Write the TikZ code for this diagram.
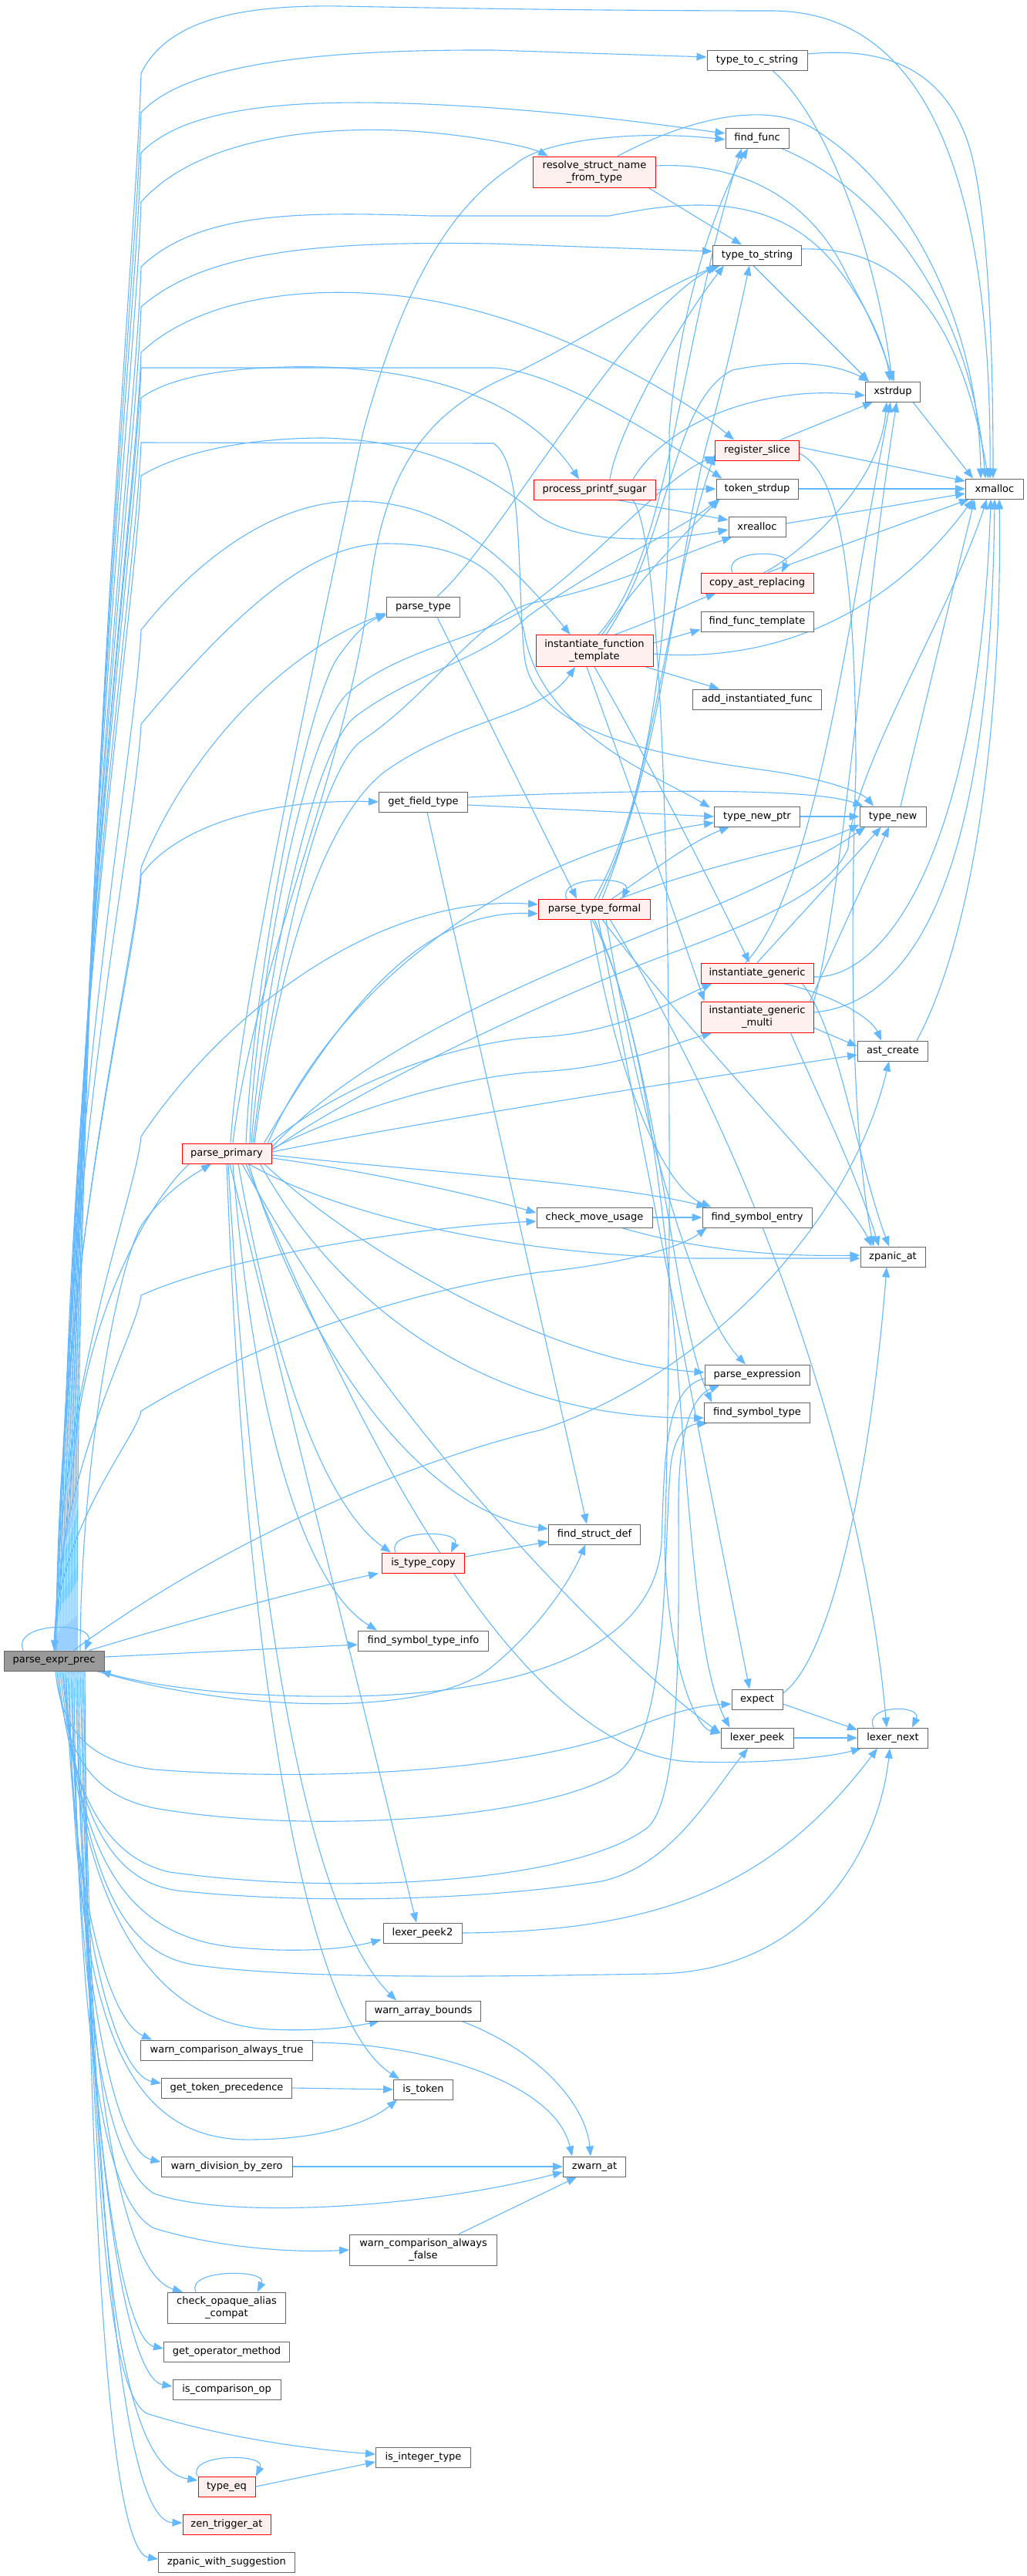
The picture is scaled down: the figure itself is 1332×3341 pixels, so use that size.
\documentclass[tikz,border=0pt]{standalone}
\usepackage{fontspec}
\setmainfont{DejaVu Sans}
\usetikzlibrary{arrows.meta,calc}
\pgfdeclarelayer{back}
\pgfdeclarelayer{bg}
\pgfsetlayers{back,bg,main}
\definecolor{edgec}{HTML}{63B8FF}
\definecolor{nodeb}{HTML}{666666}
\definecolor{rootf}{HTML}{999999}
\definecolor{hlf}{HTML}{FFF0F0}
\newcommand\PU[3]{\draw[e] ($(P.north)+(#1,0)$) .. controls ({70+#1},{(2141+#2)/2}) and (176,{#2+0.12*(2141-#2)}) .. (183,#2) #3;}
\newcommand\SL[2]{\draw[e] ($(#1.north)+(-#2,0)$) .. controls ($(#1.north)+(-#2-14,-30)$) and ($(#1.north)+(#2+14,-30)$) .. ($(#1.north)+(#2,0)$);}
\begin{document}
\begin{tikzpicture}[x=1pt,y=-1pt,
 fn/.style={draw=nodeb, fill=white, line width=1pt, minimum height=26pt, inner sep=0pt, font=\fontsize{13}{15.5}\selectfont, align=center},
 hl/.style={fn, draw=red, fill=hlf},
 rt/.style={fn, fill=rootf},
 e/.style={draw=edgec, line width=1.1pt, -{Triangle[length=13pt,width=10pt]}}]
\begin{pgfonlayer}{back}
\fill[white] (0,0) rectangle (1332,3341);
\end{pgfonlayer}
\useasboundingbox (0,0) rectangle (1332,3341);
% ---------------- nodes
\node[rt, minimum width=130] (P) at (70,2154) {parse\_expr\_prec};
\node[hl, minimum width=116] (PP) at (294,1496) {parse\_primary};
\node[fn, minimum width=223] (wcat) at (294,2659) {warn\_comparison\_always\_true};
\node[fn, minimum width=169] (gtp) at (294,2708) {get\_token\_precedence};
\node[fn, minimum width=170] (wdz) at (294,2810) {warn\_division\_by\_zero};
\node[fn, minimum width=153, minimum height=40] (coac) at (294,2993) {check\_opaque\_alias\\\_compat};
\node[fn, minimum width=163] (gom) at (294,3050) {get\_operator\_method};
\node[fn, minimum width=140] (ico) at (294,3099) {is\_comparison\_op};
\node[hl, minimum width=74] (teq) at (294,3225) {type\_eq};
\node[hl, minimum width=114] (zta) at (294,3274) {zen\_trigger\_at};
\node[fn, minimum width=177] (zws) at (294,3323) {zpanic\_with\_suggestion};
\node[fn, minimum width=95] (pt) at (549,787) {parse\_type};
\node[fn, minimum width=115] (gft) at (549,1040) {get\_field\_type};
\node[hl, minimum width=107] (itc) at (549,2027) {is\_type\_copy};
\node[fn, minimum width=169] (fsti) at (549,2128) {find\_symbol\_type\_info};
\node[fn, minimum width=102] (lp2) at (548,2507) {lexer\_peek2};
\node[fn, minimum width=149] (wab) at (549,2608) {warn\_array\_bounds};
\node[fn, minimum width=77] (ist) at (549,2710) {is\_token};
\node[fn, minimum width=191, minimum height=40] (wcaf) at (549,2918) {warn\_comparison\_always\\\_false};
\node[fn, minimum width=123] (iit) at (549,3187) {is\_integer\_type};
\node[hl, minimum width=159, minimum height=40] (rsn) at (771,223) {resolve\_struct\_name\\\_from\_type};
\node[hl, minimum width=158] (pps) at (771,635) {process\_printf\_sugar};
\node[hl, minimum width=152, minimum height=41] (ift) at (771,844) {instantiate\_function\\\_template};
\node[hl, minimum width=145] (ptf) at (771,1179) {parse\_type\_formal};
\node[fn, minimum width=150] (cmu) at (771,1579) {check\_move\_usage};
\node[fn, minimum width=119] (fsd) at (771,1990) {find\_struct\_def};
\node[fn, minimum width=81] (zw) at (771,2810) {zwarn\_at};
\node[fn, minimum width=130] (ttcs) at (982,78) {type\_to\_c\_string};
\node[fn, minimum width=82] (ff) at (982,179) {find\_func};
\node[fn, minimum width=115] (tts) at (982,331) {type\_to\_string};
\node[hl, minimum width=109] (rs) at (982,584) {register\_slice};
\node[fn, minimum width=106] (tsd) at (982,634) {token\_strdup};
\node[fn, minimum width=74] (xr) at (982,683) {xrealloc};
\node[hl, minimum width=146] (car) at (982,756) {copy\_ast\_replacing};
\node[fn, minimum width=146] (fft) at (982,806) {find\_func\_template};
\node[fn, minimum width=167] (aif) at (982,907) {add\_instantiated\_func};
\node[fn, minimum width=111] (tnp) at (982,1059) {type\_new\_ptr};
\node[hl, minimum width=146] (ig) at (982,1262) {instantiate\_generic};
\node[hl, minimum width=146, minimum height=40] (igm) at (982,1319) {instantiate\_generic\\\_multi};
\node[fn, minimum width=142] (fse) at (982,1579) {find\_symbol\_entry};
\node[fn, minimum width=136] (pe) at (982,1783) {parse\_expression};
\node[fn, minimum width=137] (fst) at (982,1832) {find\_symbol\_type};
\node[fn, minimum width=66] (ex) at (982,2204) {expect};
\node[fn, minimum width=94] (lp) at (982,2254) {lexer\_peek};
\node[fn, minimum width=71] (xs) at (1158,508) {xstrdup};
\node[fn, minimum width=86] (tn) at (1158,1059) {type\_new};
\node[fn, minimum width=91] (ac) at (1158,1363) {ast\_create};
\node[fn, minimum width=84] (zp) at (1158,1630) {zpanic\_at};
\node[fn, minimum width=91] (ln) at (1158,2254) {lexer\_next};
\node[fn, minimum width=75] (xm) at (1290,634) {xmalloc};
% ---------------- edges
\begin{pgfonlayer}{bg}
% parse_expr_prec upward bundle
\PU{30}{95}{.. controls (215,30) and (300,6) .. (440,8) .. controls (600,11) and (800,14) .. (1000,14) .. controls (1210,14) and (1286,250) .. ($(xm.north)+(-6,0)$)}
\PU{28}{146}{.. controls (240,85) and (400,64) .. (640,65) -- ($(ttcs.west)+(0,-4)$)}
\PU{26}{198}{.. controls (250,130) and (420,125) .. (640,140) .. controls (780,150) and (880,165) .. ($(ff.west)+(0,-6)$)}
\PU{24}{262}{.. controls (260,175) and (430,160) .. (560,172) .. controls (640,180) and (690,192) .. ($(rsn.north west)+(20,0)$)}
\PU{22}{346}{.. controls (260,272) and (400,275) .. (560,280) -- (790,280) .. controls (880,262) and (1000,245) .. (1080,340) .. controls (1130,400) and (1150,460) .. ($(xs.north)+(-4,0)$)}
\PU{20}{398}{.. controls (270,322) and (430,313) .. (640,316) -- ($(tts.west)+(0,-5)$)}
\PU{18}{457}{.. controls (260,385) and (400,370) .. (520,384) .. controls (700,405) and (880,510) .. ($(rs.north west)+(25,0)$)}
\PU{16}{477}{-- (640,477) .. controls (720,480) and (860,570) .. ($(tsd.north west)+(8,0)$)}
\PU{14}{516}{.. controls (230,482) and (330,474) .. (420,476) .. controls (580,482) and (690,530) .. ($(pps.north)+(-20,0)$)}
\PU{12}{574}{-- (640,575) .. controls (680,600) and (670,750) .. (680,850) .. controls (690,950) and (850,980) .. (1000,1000) .. controls (1080,1012) and (1120,1030) .. ($(tn.north)+(-25,0)$)}
\PU{10}{617}{.. controls (240,583) and (330,568) .. (420,568) .. controls (560,572) and (640,620) .. (700,670) .. controls (760,710) and (870,700) .. ($(xr.west)+(0,4)$)}
\PU{8}{817}{.. controls (260,720) and (360,650) .. (460,650) .. controls (560,650) and (640,700) .. ($(ift.north west)+(45,0)$)}
\PU{6}{939}{.. controls (300,800) and (400,705) .. (500,705) .. controls (600,705) and (660,740) .. (680,820) .. controls (700,950) and (860,1010) .. ($(tnp.north west)+(-5,2)$)}
\PU{4}{1125}{.. controls (250,960) and (380,840) .. ($(pt.south west)+(0,-5)$)}
\PU{3}{1135}{.. controls (230,1070) and (350,1036) .. (gft.west)}
\PU{2}{1474}{.. controls (300,1300) and (500,1160) .. ($(ptf.west)+(0,-6)$)}
\PU{1}{1680}{.. controls (300,1627) and (550,1591) .. ($(cmu.west)+(0,5)$)}
\PU{0}{1830}{.. controls (340,1734) and (550,1670) .. (700,1650) .. controls (800,1640) and (880,1620) .. ($(fse.south west)+(6,0)$)}
\draw[e] ($(P.north east)+(-40,0)$) .. controls (300,1990) and (550,1890) .. (700,1855) .. controls (900,1790) and (1100,1600) .. ($(ac.south)+(-5,0)$);
\draw[e] ($(P.north east)+(-20,0)$) .. controls (250,2100) and (400,2060) .. ($(itc.south west)+(-4,0)$);
\draw[e] ($(P.east)+(0,-5)$) -- ($(fsti.west)+(0,5)$);
\draw[e] ($(P.north)+(34,0)$) .. controls (105,1900) and (150,1650) .. (183,1590) .. controls (210,1550) and (240,1530) .. ($(PP.south)+(-20,0)$);
\draw[e] ($(PP.south west)+(10,0)$) .. controls (190,1560) and (120,1700) .. (100,1850) .. controls (85,1980) and (75,2080) .. (P.north);
\draw[e] ($(P.north)+(-40,0)$) .. controls ($(P.north)+(-55,-38)$) and ($(P.north)+(55,-38)$) .. ($(P.north)+(40,0)$);
% parse_expr_prec to the right / downward
\draw[e] ($(P.south east)+(-10,0)$) .. controls (300,2220) and (560,2230) .. (640,2160) .. controls (700,2110) and (740,2050) .. ($(fsd.south)+(-12,0)$);
\draw[e] ($(pe.west)+(0,5)$) .. controls (860,1800) and (862,1900) .. (858,2000) .. controls (850,2150) and (650,2198) .. (450,2200) .. controls (300,2202) and (190,2185) .. ($(P.south east)+(-5,0)$);
\draw[e] ($(P.south)+(2,0)$) .. controls (80,2250) and (120,2285) .. (200,2295) .. controls (400,2310) and (650,2300) .. (800,2250) .. controls (860,2225) and (900,2212) .. ($(ex.west)+(0,6)$);
\draw[e] ($(P.south)+(4,0)$) .. controls (85,2290) and (130,2330) .. (200,2345) .. controls (400,2380) and (700,2360) .. (800,2300) .. controls (870,2250) and (860,2000) .. (870,1900) .. controls (875,1860) and (890,1848) .. ($(fst.south west)+(5,0)$);
\draw[e] ($(P.south)+(6,0)$) .. controls (90,2330) and (140,2410) .. (220,2428) .. controls (450,2460) and (750,2440) .. (840,2370) .. controls (885,2330) and (880,2100) .. (880,1950) .. controls (880,1850) and (900,1810) .. ($(pe.south west)+(20,0)$);
\draw[e] ($(P.south)+(8,0)$) .. controls (100,2370) and (150,2440) .. (230,2452) .. controls (400,2470) and (620,2465) .. (780,2440) .. controls (870,2420) and (920,2330) .. ($(lp.south)+(-12,0)$);
\draw[e] ($(P.south)+(10,0)$) .. controls (110,2420) and (150,2530) .. (250,2548) .. controls (400,2570) and (700,2562) .. (850,2560) .. controls (1050,2558) and (1140,2400) .. ($(ln.south)+(-4,0)$);
\draw[e] ($(P.south)+(12,0)$) .. controls (100,2420) and (170,2510) .. (300,2525) .. controls (400,2535) and (460,2525) .. ($(lp2.south west)+(-2,-5)$);
\draw[e] ($(P.south)+(14,0)$) .. controls (100,2480) and (200,2625) .. (350,2632) .. controls (420,2635) and (460,2628) .. ($(wab.south west)+(18,0)$);
\draw[e] ($(P.south)+(16,0)$) .. controls (92,2450) and (140,2620) .. ($(wcat.north west)+(15,0)$);
\draw[e] ($(P.south)+(18,0)$) .. controls (95,2500) and (150,2690) .. ($(gtp.west)+(0,-6)$);
\draw[e] ($(P.south)+(20,0)$) .. controls (95,2600) and (150,2780) .. (330,2775) .. controls (420,2774) and (480,2752) .. ($(ist.south west)+(5,0)$);
\draw[e] ($(P.south)+(22,0)$) .. controls (100,2580) and (150,2790) .. ($(wdz.west)+(0,-6)$);
\draw[e] ($(P.south)+(24,0)$) .. controls (100,2620) and (140,2810) .. (200,2845) .. controls (300,2880) and (560,2862) .. ($(zw.west)+(0,7)$);
\draw[e] ($(P.south)+(26,0)$) .. controls (100,2680) and (140,2860) .. (200,2890) .. controls (300,2920) and (400,2921) .. (wcaf.west);
\draw[e] ($(P.south)+(28,0)$) .. controls (110,2720) and (160,2950) .. ($(coac.north west)+(20,0)$);
\draw[e] ($(P.south)+(30,0)$) .. controls (110,2780) and (160,3035) .. ($(gom.west)+(0,-4)$);
\draw[e] ($(P.south)+(32,0)$) .. controls (112,2820) and (165,3085) .. ($(ico.west)+(0,-4)$);
\draw[e] ($(P.south)+(34,0)$) .. controls (120,2850) and (140,3100) .. (190,3130) .. controls (300,3165) and (420,3178) .. ($(iit.west)+(0,-4)$);
\draw[e] ($(P.south)+(36,0)$) .. controls (120,2900) and (150,3200) .. ($(teq.west)+(0,-8)$);
\draw[e] ($(P.south)+(38,0)$) .. controls (122,2950) and (165,3270) .. ($(zta.west)+(0,-2)$);
\draw[e] ($(P.south)+(40,0)$) .. controls (115,3000) and (150,3310) .. ($(zws.west)+(0,-4)$);
% parse_primary
\draw[e] ($(PP.north)+(5,0)$) .. controls (310,1300) and (420,800) .. (471,560) .. controls (520,380) and (580,270) .. (666,215) .. controls (700,182) and (820,168) .. ($(ff.west)+(0,2)$);
\draw[e] ($(PP.north)+(8,0)$) .. controls (330,1250) and (450,1000) .. (480,760) .. controls (500,600) and (560,530) .. (666,485) .. controls (760,440) and (860,370) .. ($(tts.south west)+(10,0)$);
\draw[e] ($(PP.north)+(30,0)$) .. controls (330,1300) and (390,960) .. (450,900) .. controls (520,840) and (620,830) .. (680,790) .. controls (780,720) and (860,620) .. ($(rs.west)+(0,8)$);
\draw[e] ($(PP.north)+(32,0)$) .. controls (340,1300) and (400,980) .. (460,930) .. controls (540,870) and (620,860) .. (684,800) .. controls (780,730) and (880,690) .. ($(tsd.south west)+(3,0)$);
\draw[e] ($(PP.north)+(34,0)$) .. controls (350,1300) and (410,1000) .. (470,960) .. controls (560,900) and (620,800) .. (690,782) .. controls (800,760) and (880,720) .. ($(xr.south west)+(5,0)$);
\draw[e] ($(PP.north)+(36,0)$) .. controls (360,1250) and (420,1060) .. (500,1000) .. controls (600,930) and (700,930) .. ($(ift.south)+(-25,0)$);
\draw[e] ($(PP.north)+(25,0)$) .. controls (330,1250) and (400,900) .. (440,850) .. controls (465,815) and (480,805) .. ($(pt.south west)+(0,-3)$);
\draw[e] ($(PP.north east)+(-10,0)$) .. controls (450,1300) and (550,1180) .. ($(ptf.west)+(0,6)$);
\draw[e] ($(PP.north east)+(-5,0)$) .. controls (450,1250) and (700,1100) .. ($(tnp.west)+(0,8)$);
\draw[e] ($(PP.east)+(0,-8)$) .. controls (500,1330) and (800,1230) .. (950,1165) .. controls (1040,1125) and (1090,1095) .. ($(tn.south west)+(8,0)$);
\draw[e] ($(PP.east)+(0,-4)$) .. controls (450,1420) and (700,1300) .. (860,1240) .. controls (1000,1190) and (1080,1150) .. (1100,1100) .. controls (1105,1000) and (1230,800) .. ($(xm.south)+(-10,0)$);
\draw[e] ($(PP.north east)+(-2,0)$) .. controls (450,1400) and (600,1350) .. (700,1345) .. controls (800,1340) and (870,1300) .. ($(ig.south west)+(15,0)$);
\draw[e] ($(PP.east)+(0,-6)$) .. controls (450,1440) and (600,1395) .. (700,1390) .. controls (800,1385) and (870,1355) .. ($(igm.south west)+(15,0)$);
\draw[e] ($(PP.east)+(0,-2)$) .. controls (600,1445) and (900,1400) .. ($(ac.west)+(0,5)$);
\draw[e] ($(PP.east)+(0,6)$) .. controls (450,1515) and (600,1545) .. ($(cmu.west)+(0,-6)$);
\draw[e] ($(PP.east)+(0,2)$) .. controls (500,1515) and (800,1535) .. ($(fse.north west)+(6,0)$);
\draw[e] ($(PP.south east)+(-30,0)$) .. controls (400,1555) and (600,1625) .. (900,1632) -- ($(zp.west)+(0,2)$);
\draw[e] ($(PP.south east)+(-10,0)$) .. controls (450,1610) and (700,1765) .. ($(pe.west)+(0,-3)$);
\draw[e] ($(PP.south east)+(-15,0)$) .. controls (420,1660) and (600,1840) .. ($(fst.west)+(0,7)$);
\draw[e] ($(PP.south east)+(-30,0)$) .. controls (400,1760) and (550,1960) .. ($(fsd.west)+(0,-7)$);
\draw[e] ($(PP.south)+(15,0)$) .. controls (360,1800) and (430,1960) .. ($(itc.north west)+(12,0)$);
\draw[e] ($(PP.south)+(8,0)$) .. controls (330,1860) and (400,2060) .. ($(fsti.north west)+(25,0)$);
\draw[e] ($(PP.south)+(4,0)$) -- ($(lp2.north)+(-8,0)$);
\draw[e] ($(PP.south)+(2,0)$) .. controls (330,2100) and (400,2480) .. ($(wab.north west)+(40,0)$);
\draw[e] (PP.south) .. controls (320,2200) and (400,2620) .. ($(ist.north west)+(8,0)$);
\draw[e] ($(PP.south)+(20,0)$) .. controls (500,1850) and (800,2150) .. ($(lp.west)+(0,-6)$);
\draw[e] ($(PP.south)+(25,0)$) .. controls (500,1950) and (700,2280) .. (900,2285) .. controls (1000,2288) and (1080,2278) .. ($(ln.south west)+(5,0)$);
% top-right area
\draw[e] ($(ttcs.south)+(20,0)$) .. controls (1080,160) and (1140,350) .. ($(xs.north)+(-1,0)$);
\draw[e] ($(ttcs.east)+(0,-8)$) .. controls (1150,60) and (1230,90) .. (1260,200) .. controls (1285,300) and (1288,500) .. ($(xm.north)+(-2,0)$);
\draw[e] ($(ff.south east)+(-10,0)$) .. controls (1150,250) and (1260,400) .. ($(xm.north)+(-12,0)$);
\draw[e] ($(rsn.north)+(30,0)$) .. controls (900,150) and (1000,130) .. (1060,170) .. controls (1200,260) and (1270,450) .. ($(xm.north)+(-18,0)$);
\draw[e] ($(rsn.east)+(0,-8)$) .. controls (950,210) and (1050,250) .. (1100,360) .. controls (1140,430) and (1150,470) .. ($(xs.north)+(2,0)$);
\draw[e] ($(rsn.south east)+(-10,0)$) -- ($(tts.north)+(-20,0)$);
\draw[e] ($(tts.south)+(-5,0)$) -- ($(xs.north west)+(5,0)$);
\draw[e] ($(tts.east)+(0,-8)$) .. controls (1150,320) and (1240,380) .. ($(xm.north)+(-8,0)$);
\draw[e] ($(xs.south east)+(-10,0)$) -- ($(xm.north west)+(10,0)$);
\draw[e] ($(rs.north east)+(-25,0)$) -- ($(xs.south west)+(10,0)$);
\draw[e] ($(rs.east)+(0,-4)$) -- ($(xm.west)+(0,-10)$);
\draw[e] ($(rs.east)+(0,4)$) .. controls (1080,610) and (1110,700) .. (1110,1000) .. controls (1100,1300) and (1110,1500) .. ($(zp.north)+(-25,0)$);
\draw[e] (tsd.east) -- (xm.west);
\draw[e] ($(xr.east)+(0,-4)$) -- ($(xm.west)+(0,6)$);
\draw[e] ($(car.north east)+(-65,0)$) .. controls (1020,730) and (1140,640) .. ($(xs.south)+(-8,0)$);
\draw[e] ($(car.north east)+(-60,0)$) -- ($(xm.south west)+(5,0)$);
\SL{car}{32}
% instantiate_function_template
\draw[e] ($(ift.north east)+(-50,0)$) .. controls (860,800) and (900,780) .. ($(car.south west)+(20,0)$);
\draw[e] ($(ift.east)+(0,-10)$) -- ($(fft.south west)+(0,-3)$);
\draw[e] ($(ift.east)+(0,4)$) .. controls (1000,860) and (1150,800) .. ($(xm.south west)+(10,0)$);
\draw[e] ($(ift.south east)+(-10,0)$) -- ($(aif.north west)+(35,0)$);
\draw[e] (ift.south) .. controls (820,950) and (900,1100) .. ($(ig.north)+(-10,0)$);
\draw[e] ($(ift.south)+(-10,0)$) .. controls (810,1000) and (880,1200) .. ($(igm.north west)+(5,0)$);
\draw[e] ($(ift.north)+(5,0)$) .. controls (870,720) and (880,450) .. ($(ff.south)+(-20,0)$);
\draw[e] ($(ift.north)+(10,0)$) .. controls (830,750) and (880,700) .. ($(tsd.south west)+(5,0)$);
\draw[e] ($(ift.north)+(15,0)$) .. controls (870,700) and (870,520) .. (950,480) .. controls (1050,460) and (1100,480) .. ($(xs.north west)+(5,0)$);
% process_printf_sugar
\draw[e] (pps.east) -- (tsd.west);
\draw[e] ($(pps.south east)+(-50,0)$) -- ($(xr.north west)+(0,5)$);
\draw[e] ($(pps.north)+(20,0)$) .. controls (800,560) and (880,420) .. ($(tts.south west)+(15,0)$);
\draw[e] ($(pps.north)+(50,0)$) .. controls (870,540) and (1000,500) .. ($(xs.west)+(0,5)$);
\draw[e] ($(pps.south east)+(-30,0)$) .. controls (880,720) and (870,1800) .. (862,2000) .. controls (865,2150) and (900,2240) .. ($(lp.west)+(0,-6)$);
% parse_type_formal
\SL{ptf}{36}
\draw[e] ($(ptf.north east)+(-50,0)$) .. controls (860,1120) and (900,1090) .. ($(tnp.south west)+(20,0)$);
\draw[e] ($(ptf.north east)+(-40,0)$) .. controls (950,1110) and (1050,1100) .. ($(tn.south west)+(0,-3)$);
\draw[e] ($(ptf.north)+(5,0)$) .. controls (860,1000) and (880,700) .. (921,560) .. controls (945,470) and (960,400) .. ($(tts.south)+(-10,0)$);
\draw[e] (ptf.north) .. controls (865,1000) and (870,700) .. (868,560) .. controls (880,400) and (930,260) .. ($(ff.south)+(-12,0)$);
\draw[e] ($(ptf.north)+(10,0)$) .. controls (850,1000) and (870,750) .. ($(rs.west)+(0,6)$);
\draw[e] ($(ptf.south)+(-5,0)$) .. controls (800,1400) and (860,1540) .. ($(fse.north west)+(12,0)$);
\draw[e] ($(ptf.south)+(10,0)$) .. controls (900,1350) and (1100,1550) .. ($(zp.north west)+(15,0)$);
\draw[e] ($(ptf.south)+(15,0)$) .. controls (830,1450) and (900,1700) .. ($(pe.north)+(-15,0)$);
\draw[e] (ptf.south) .. controls (860,1400) and (870,1700) .. ($(fst.north west)+(10,0)$);
\draw[e] ($(ptf.south)+(5,0)$) -- ($(ex.north)+(-10,0)$);
\draw[e] ($(ptf.south)+(-3,0)$) .. controls (900,1450) and (870,2100) .. ($(lp.north west)+(12,0)$);
\draw[e] ($(ptf.south)+(20,0)$) .. controls (980,1500) and (1120,1900) .. ($(ln.north)+(-8,0)$);
% parse_type / get_field_type
\draw[e] ($(pt.south east)+(-30,0)$) -- ($(ptf.north west)+(50,0)$);
\draw[e] ($(pt.north east)+(-30,0)$) .. controls (650,700) and (800,420) .. ($(tts.south west)+(5,0)$);
\draw[e] ($(gft.south)+(5,0)$) -- ($(fsd.north)+(-10,0)$);
\draw[e] ($(gft.east)+(0,-6)$) .. controls (800,1025) and (1050,1020) .. ($(tn.north west)+(5,0)$);
\draw[e] ($(gft.east)+(0,4)$) -- (tnp.west);
\draw[e] (tnp.east) -- (tn.west);
\draw[e] ($(tn.north)+(10,0)$) -- ($(xm.south west)+(12,0)$);
% instantiate_generic(_multi)
\draw[e] ($(ig.east)+(0,5)$) .. controls (1150,1270) and (1270,1100) .. ($(xm.south)+(-5,0)$);
\draw[e] ($(ig.north)+(-15,0)$) .. controls (1060,1150) and (1100,800) .. ($(xs.south)+(-3,0)$);
\draw[e] (ig.north) -- ($(tn.south)+(-15,0)$);
\draw[e] ($(ig.south east)+(-40,0)$) .. controls (1080,1290) and (1130,1320) .. ($(ac.north)+(-15,0)$);
\draw[e] ($(ig.south east)+(-15,0)$) .. controls (1090,1340) and (1110,1500) .. ($(zp.north)+(-5,0)$);
\draw[e] ($(igm.east)+(0,-6)$) .. controls (1200,1300) and (1285,1100) .. (xm.south);
\draw[e] (igm.north east) .. controls (1090,1180) and (1120,800) .. ($(xs.south)+(5,0)$);
\draw[e] ($(igm.north east)+(-5,0)$) -- ($(tn.south)+(-5,0)$);
\draw[e] ($(igm.east)+(0,14)$) -- ($(ac.west)+(0,-6)$);
\draw[e] ($(igm.south east)+(-30,0)$) .. controls (1060,1420) and (1110,1520) .. ($(zp.north)+(-18,0)$);
\draw[e] ($(ac.north east)+(-15,0)$) .. controls (1270,1200) and (1300,900) .. ($(xm.south)+(6,0)$);
% middle / lower
\draw[e] (cmu.east) -- (fse.west);
\draw[e] ($(cmu.south east)+(-40,0)$) .. controls (900,1620) and (1000,1630) .. ($(zp.west)+(0,-2)$);
\draw[e] ($(ex.east)+(0,-8)$) .. controls (1080,2150) and (1130,1900) .. ($(zp.south)+(-8,0)$);
\draw[e] ($(ex.east)+(0,6)$) -- ($(ln.north west)+(0,3)$);
\draw[e] (lp.east) -- (ln.west);
\SL{ln}{25}
\draw[e] (lp2.east) .. controls (850,2505) and (1000,2450) .. ($(ln.south)+(-20,0)$);
\draw[e] ($(itc.east)+(0,-8)$) -- ($(fsd.south west)+(0,-4)$);
\SL{itc}{36}
\draw[e] ($(wab.south east)+(-25,0)$) .. controls (700,2660) and (760,2730) .. ($(zw.north)+(-5,0)$);
\draw[e] ($(wcat.east)+(0,-10)$) .. controls (550,2650) and (720,2700) .. ($(zw.north west)+(12,0)$);
\draw[e] (gtp.east) -- (ist.west);
\draw[e] (wdz.east) -- (zw.west);
\draw[e] ($(wcaf.north east)+(-50,0)$) -- ($(zw.south west)+(18,0)$);
\SL{coac}{40}
\SL{teq}{38}
\draw[e] (teq.east) -- ($(iit.west)+(0,6)$);
\end{pgfonlayer}
\end{tikzpicture}
\end{document}
